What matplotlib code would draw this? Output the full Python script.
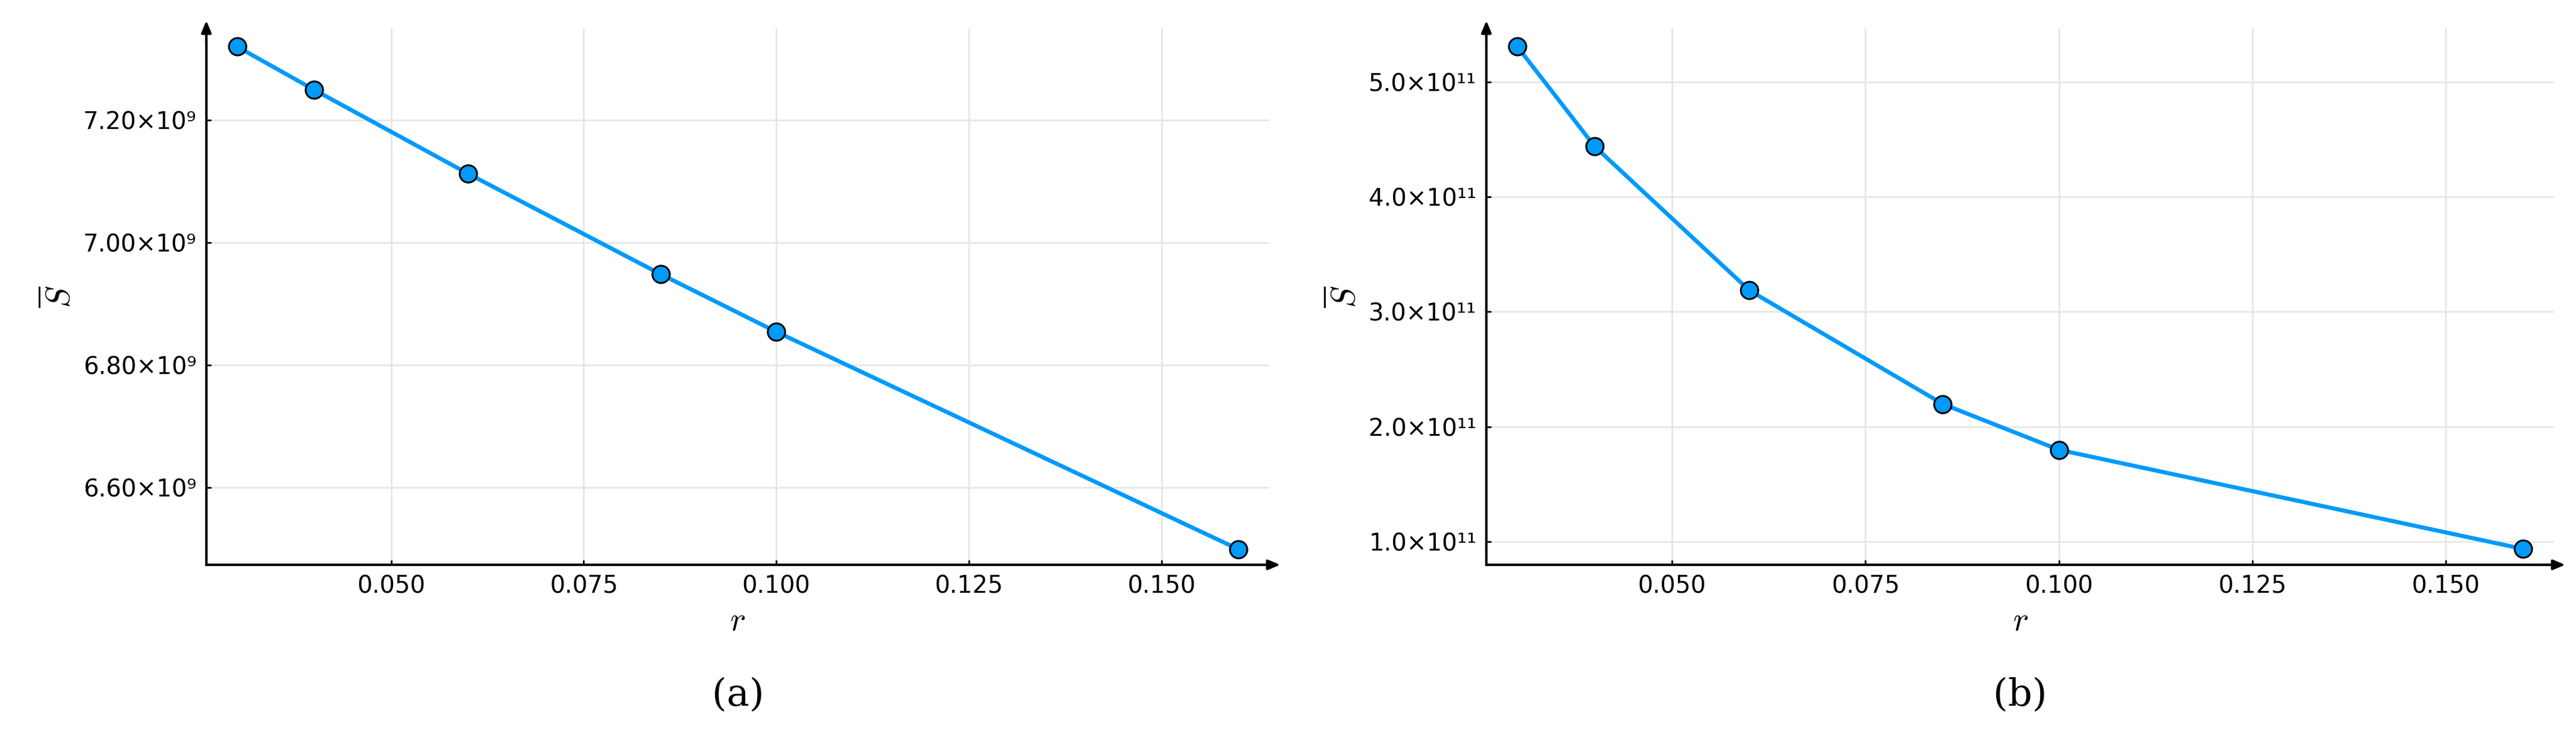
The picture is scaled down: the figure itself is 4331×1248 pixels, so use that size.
import matplotlib
matplotlib.use("Agg")
import matplotlib.pyplot as plt

r = [0.03, 0.04, 0.06, 0.085, 0.10, 0.16]
S_a = [7.3195e9, 7.249e9, 7.112e9, 6.948e9, 6.854e9, 6.499e9]
S_b = [5.306e11, 4.438e11, 3.186e11, 2.198e11, 1.80e11, 0.938e11]
xticks = [0.050, 0.075, 0.100, 0.125, 0.150]
xticklabels = ["0.050", "0.075", "0.100", "0.125", "0.150"]
yticks_a = [6.6e9, 6.8e9, 7.0e9, 7.2e9]
yticklabels_a = ["6.60×10⁹", "6.80×10⁹", "7.00×10⁹", "7.20×10⁹"]
yticks_b = [1e11, 2e11, 3e11, 4e11, 5e11]
yticklabels_b = ["1.0×10¹¹", "2.0×10¹¹", "3.0×10¹¹", "4.0×10¹¹", "5.0×10¹¹"]
captions = ["(a)", "(b)"]

plt.rcParams["mathtext.fontset"] = "cm"
fig = plt.figure(figsize=(43.31, 12.48), dpi=100)
axa = fig.add_axes([0.0801, 0.2388, 0.4126, 0.7227])
axb = fig.add_axes([0.5770, 0.2388, 0.4145, 0.7227])

for ax, S, yt, ytl, ylim, cap in [
    (axa, S_a, yticks_a, yticklabels_a, (6.4736e9, 7.349e9), captions[0]),
    (axb, S_b, yticks_b, yticklabels_b, (0.80e11, 5.463e11), captions[1]),
]:
    ax.plot(r, S, color="#009AFA", lw=5, marker="o", ms=21, mfc="#009AFA",
            mec="black", mew=2.2, zorder=3)
    ax.set_xlim(0.026, 0.164)
    ax.set_ylim(*ylim)
    ax.set_xticks(xticks)
    ax.set_xticklabels(xticklabels, fontsize=29)
    ax.set_yticks(yt)
    ax.set_yticklabels(ytl, fontsize=29)
    ax.grid(True, color="#e6e6e6", lw=2)
    ax.set_axisbelow(True)
    for s in ["top", "right"]:
        ax.spines[s].set_visible(False)
    for s in ["left", "bottom"]:
        ax.spines[s].set_linewidth(3)
    ax.tick_params(direction="in", length=6, width=2, pad=12)
    ax.annotate("", xy=(1.012, 0), xytext=(0.98, 0), xycoords="axes fraction",
                arrowprops=dict(arrowstyle="-|>,head_length=1.2,head_width=0.5", color="black", lw=3),
                annotation_clip=False)
    ax.annotate("", xy=(0, 1.018), xytext=(0, 0.97), xycoords="axes fraction",
                arrowprops=dict(arrowstyle="-|>,head_length=1.2,head_width=0.5", color="black", lw=3),
                annotation_clip=False)
    ax.set_xlabel(r"$r$", fontsize=40, labelpad=8)
    ax.set_ylabel(r"$\overline{S}$", fontsize=40, labelpad=8)
    ax.text(0.5, -0.21, cap, transform=ax.transAxes, ha="center", va="top",
            fontsize=46, family="DejaVu Serif")

fig.savefig("out.png", dpi=100)
